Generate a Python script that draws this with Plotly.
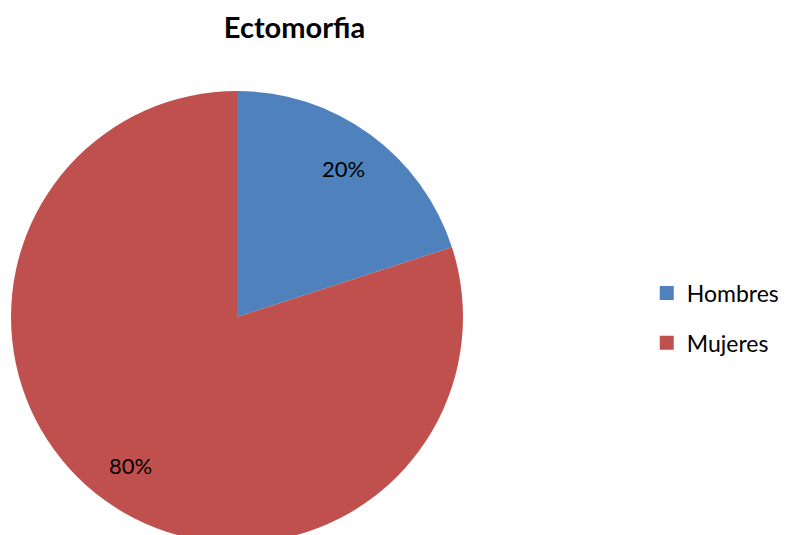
import math
import plotly.graph_objects as go

# Somatotype share by sex
labels = ["Hombres", "Mujeres"]
values = [20, 80]
colors = ["#4F81BD", "#C0504D"]

W, H = 785, 547
L, R, T, B = 11, 314, 87, 0
PW = W - L - R          # plot area width (px)
PH = H - T - B          # plot area height (px)
font_family = "Lato, 'Open Sans', sans-serif"

fig = go.Figure()

fig.add_trace(
    go.Pie(
        labels=labels,
        values=values,
        sort=False,
        direction="clockwise",
        rotation=0,
        marker=dict(colors=colors, line=dict(width=0)),
        textinfo="none",
        hoverinfo="label+percent",
        showlegend=False,
    )
)

# percentage labels placed along each slice's mid-angle
total = sum(values)
start = 0.0
for lab, v in zip(labels, values):
    frac = v / total
    mid = (start + frac / 2) * 2 * math.pi
    start += frac
    rr = 0.80
    fig.add_annotation(
        x=0.5 + rr * math.sin(mid) / 2,
        y=0.5 + rr * math.cos(mid) / 2,
        xref="paper",
        yref="paper",
        text=f"{round(frac * 100)}%",
        showarrow=False,
        font=dict(size=22, family=font_family, color="black"),
        xanchor="center",
        yanchor="middle",
    )

# legend entries (square swatches) with extra gap between items
for lab, c in zip(labels, colors):
    fig.add_trace(
        go.Scatter(
            x=[None],
            y=[None],
            mode="markers",
            name=lab,
            legendgroup=lab,
            marker=dict(symbol="square", size=14, color=c),
            showlegend=True,
            hoverinfo="skip",
        )
    )

fig.update_layout(
    width=W,
    height=H,
    margin=dict(l=L, r=R, t=T, b=B),
    paper_bgcolor="white",
    plot_bgcolor="white",
    font=dict(family=font_family, color="black"),
    xaxis=dict(visible=False),
    yaxis=dict(visible=False),
    title=dict(
        text="<b>Ectomorfia</b>",
        x=294.5 / W,
        xanchor="center",
        y=1 - 28 / H,
        yanchor="middle",
        font=dict(size=29, family=font_family, color="black"),
    ),
    legend=dict(
        x=(658 - L) / PW,
        xanchor="left",
        y=(T + PH - 318) / PH,
        yanchor="middle",
        tracegroupgap=17,
        itemsizing="trace",
        font=dict(size=23, family=font_family, color="black"),
    ),
)

fig.write_html("out.html")
